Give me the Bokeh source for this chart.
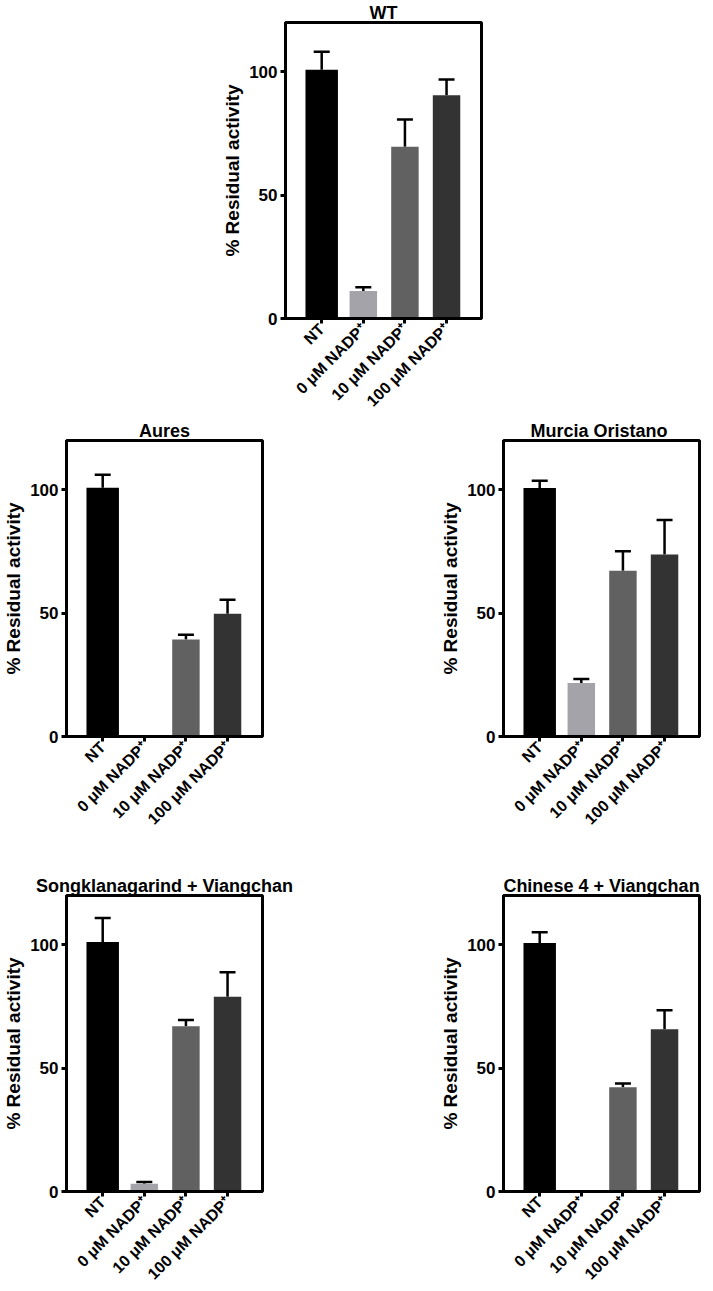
import math
from bokeh.plotting import figure
from bokeh.models import Range1d, FixedTicker, Whisker, ColumnDataSource, TeeHead, Spacer
from bokeh.layouts import column, row
from bokeh.embed import file_html
from bokeh.resources import INLINE

# ---- data ----
conditions = ["NT", "0 \u03bcM NADP\u207a", "10 \u03bcM NADP\u207a", "100 \u03bcM NADP\u207a"]

wt_mean = [100.8, 11.1, 69.6, 90.5]
wt_err = [7.3, 1.6, 11.1, 6.4]

aures_mean = [100.8, 0.0, 39.3, 49.8]
aures_err = [5.3, 0.0, 1.9, 5.6]

murcia_mean = [100.7, 21.7, 67.2, 73.8]
murcia_err = [3.0, 1.6, 7.9, 14.0]

songkla_mean = [101.1, 3.1, 67.0, 79.0]
songkla_err = [9.8, 0.8, 2.5, 9.9]

chinese_mean = [100.7, 0.0, 42.3, 65.8]
chinese_err = [4.4, 0.0, 1.5, 7.7]

y_ticks = [0, 50, 100]

# ---- style ----
bar_colors = ["#000000", "#a3a3a9", "#616161", "#333333"]
bar_widths = [0.78, 0.66, 0.66, 0.66]
FONT = "Liberation Sans"
FW, FH = 196, 296
LB = 64


def make_panel(title, means, errs, mb_bottom, mb_right):
    p = figure(frame_width=FW, frame_height=FH,
               x_range=Range1d(-0.87, 3.84), y_range=Range1d(0, 120),
               output_backend="svg", toolbar_location=None, title=title,
               min_border_left=LB, min_border_right=mb_right, min_border_top=4,
               min_border_bottom=mb_bottom)
    xs = list(range(len(conditions)))
    src = ColumnDataSource(dict(x=xs, top=means, w=bar_widths, c=bar_colors))
    p.vbar(x="x", top="top", width="w", fill_color="c", line_color=None, source=src)

    ex = [x for x, e in zip(xs, errs) if e > 0]
    lo = [m for m, e in zip(means, errs) if e > 0]
    up = [m + e for m, e in zip(means, errs) if e > 0]
    esrc = ColumnDataSource(dict(x=ex, lower=lo, upper=up))
    wh = Whisker(base="x", lower="lower", upper="upper", source=esrc,
                 line_width=2.5, line_color="black",
                 upper_head=TeeHead(size=16, line_width=2.5, line_color="black"),
                 lower_head=None)
    p.add_layout(wh)

    p.title.align = "center"
    p.title.text_font = FONT
    p.title.text_font_size = "18px"
    p.title.text_font_style = "bold"
    p.title.text_color = "black"
    p.title.standoff = 0

    p.outline_line_color = "black"
    p.outline_line_width = 3
    p.outline_line_alpha = 1.0
    p.xgrid.visible = False
    p.ygrid.visible = False

    for ax in (p.xaxis[0], p.yaxis[0]):
        ax.axis_line_width = 3
        ax.axis_line_color = "black"
        ax.major_tick_line_width = 3
        ax.major_tick_line_color = "black"
        ax.major_tick_in = 0
        ax.major_tick_out = 5
        ax.minor_tick_line_color = None
        ax.major_label_text_font = FONT
        ax.major_label_text_font_style = "bold"
        ax.major_label_text_color = "black"

    p.yaxis.ticker = FixedTicker(ticks=y_ticks)
    p.yaxis.major_label_text_font_size = "17px"
    p.yaxis.major_label_standoff = 3
    p.yaxis.axis_label = "% Residual activity"
    p.yaxis.axis_label_text_font = FONT
    p.yaxis.axis_label_text_font_size = "19px"
    p.yaxis.axis_label_text_font_style = "bold"
    p.yaxis.axis_label_text_color = "black"
    p.yaxis.axis_label_standoff = 3

    p.xaxis.ticker = FixedTicker(ticks=xs)
    p.xaxis.major_label_overrides = {i: c for i, c in enumerate(conditions)}
    p.xaxis.major_label_orientation = math.pi / 4
    p.xaxis.major_label_text_font_size = "16px"
    p.xaxis.major_label_standoff = 3
    return p


wt = make_panel("WT", wt_mean, wt_err, 90, 5)
aures = make_panel("Aures", aures_mean, aures_err, 137, 36)
murcia = make_panel("Murcia  Oristano", murcia_mean, murcia_err, 137, 2)
songkla = make_panel("Songklanagarind + Viangchan", songkla_mean, songkla_err, 90, 36)
chinese = make_panel("Chinese 4 + Viangchan", chinese_mean, chinese_err, 90, 2)

layout = column(
    row(Spacer(width=219, height=10), wt),
    row(aures, Spacer(width=139, height=10), murcia),
    row(songkla, Spacer(width=139, height=10), chinese),
)

open("out.html", "w").write(file_html(layout, INLINE))
